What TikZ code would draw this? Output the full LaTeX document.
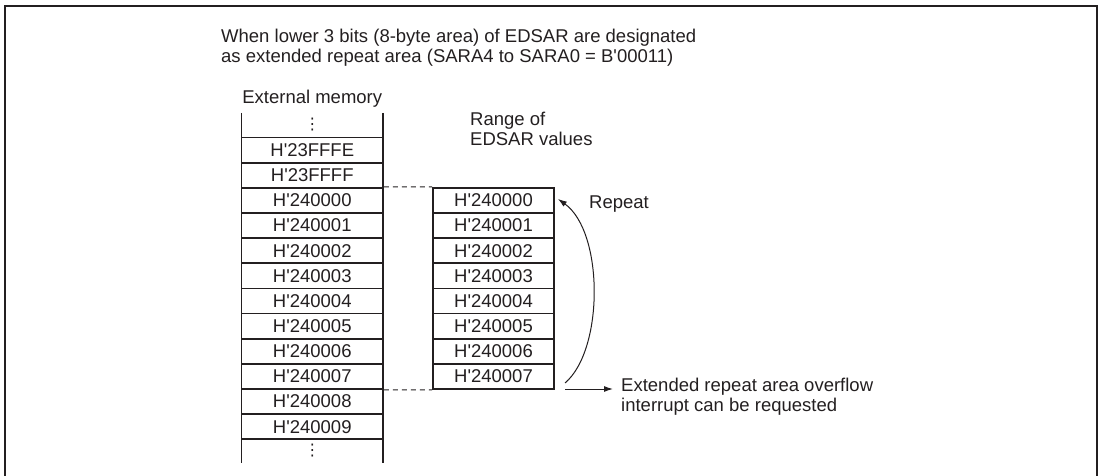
\documentclass[tikz,border=0pt]{standalone}
\usepackage{fontspec}
\setmainfont{Liberation Sans}
\newfontfamily\dvfont{DejaVu Sans}
\usetikzlibrary{arrows.meta,calc}
\definecolor{ink}{HTML}{231F20}
\newcommand\sq{\textquotesingle}
\tikzset{
  x=1pt,y=-1pt,
  every node/.style={text=ink,font=\fontsize{18.5}{20}\selectfont},
  cellL/.style={draw=ink,line width=1.8pt,minimum width=141.5pt,minimum height=25.15pt,inner sep=0pt},
  cellR/.style={draw=ink,line width=1.8pt,minimum width=121pt,minimum height=25.15pt,inner sep=0pt},
  guide/.style={draw=ink,line width=0.9pt,dash pattern=on 5pt off 4pt},
  conn/.style={draw=ink,line width=1pt,-{Latex[length=9pt,width=6pt]}},
  lbl/.style={align=left,inner sep=0pt},
  dots/.style={inner sep=0pt,font=\dvfont\fontsize{16}{16}\selectfont},
}
\begin{document}
\begin{tikzpicture}
\useasboundingbox (0,0) rectangle (1102,476);
% outer frame (open at bottom)
\draw[ink,line width=2pt] (5,476) -- (5,6) -- (1097,6) -- (1097,476);

% header
\node[lbl,anchor=west] (head) at (221,48) {When lower 3 bits (8-byte area) of EDSAR are designated\\as extended repeat area (SARA4 to SARA0 = B\sq 00011)};

% external memory column
\node[inner sep=0pt] (extmem) at (312.25,99) {External memory};
\draw[ink,line width=1.8pt] (241.5,113) -- (241.5,463);
\draw[ink,line width=1.8pt] (383,113) -- (383,463);
\node[dots] (dtop) at (312.25,125) {⋮};
\node[dots] (dbot) at (312.25,451) {⋮};
\foreach \t [count=\k from 0] in {H\sq 23FFFE,H\sq 23FFFF,H\sq 240000,H\sq 240001,H\sq 240002,H\sq 240003,H\sq 240004,H\sq 240005,H\sq 240006,H\sq 240007,H\sq 240008,H\sq 240009}{
  \node[cellL] (m\k) at (312.25,{137.5+25.15*(\k+0.5)}) {\t};
}

% range of EDSAR values
\node[lbl,anchor=north west] (range) at (470,112) {Range of\\EDSAR values};
\foreach \t [count=\k from 0] in {H\sq 240000,H\sq 240001,H\sq 240002,H\sq 240003,H\sq 240004,H\sq 240005,H\sq 240006,H\sq 240007}{
  \node[cellR] (r\k) at (493.5,{187.8+25.15*(\k+0.5)}) {\t};
}

% dashed guides
\draw[guide] (m2.north east) -- (r0.north west);
\draw[guide] (m9.south east) -- (r7.south west);

% repeat arrow
\coordinate (cs) at (565,383);
\node[lbl,anchor=west] (rep) at (589,204) {Repeat};
\draw[conn] (cs) .. controls (604,350) and (604,232) .. ($(r0.east)+(3,-1.5)$);

% overflow arrow
\coordinate (os) at (565,389);
\node[lbl,anchor=north west] (ext) at (621,378) {Extended repeat area overflow\\interrupt can be requested};
\draw[conn] (os) -- ($(ext.west |- os)+(-8,0)$);
\end{tikzpicture}
\end{document}
